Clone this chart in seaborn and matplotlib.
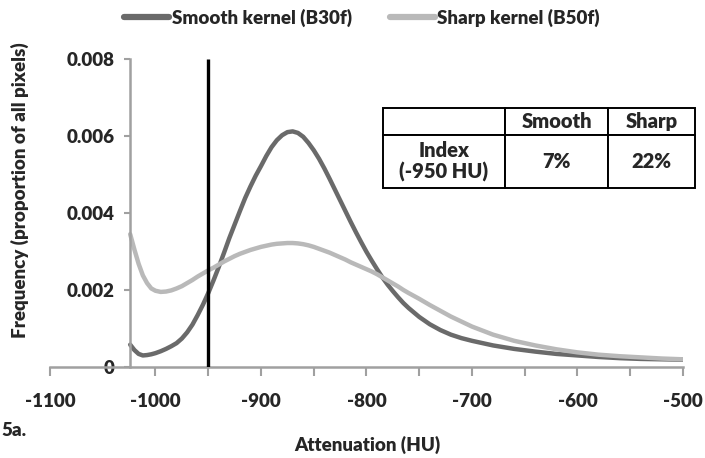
import numpy as np
import pandas as pd
import matplotlib
matplotlib.use("Agg")
import matplotlib.pyplot as plt
from matplotlib.lines import Line2D
import seaborn as sns

# ---- data ----
hu = [-1024, -1020, -1016, -1012, -1008, -1004, -1000, -995, -990, -985, -980, -975,
      -970, -965, -960, -955, -950, -945, -940, -935, -930, -925, -920, -915, -910,
      -905, -900, -895, -890, -885, -880, -875, -870, -865, -860, -855, -850, -845,
      -840, -835, -830, -825, -820, -815, -810, -805, -800, -795, -790, -785, -780,
      -775, -770, -765, -760, -750, -740, -730, -720, -710, -700, -680, -660, -640,
      -620, -600, -580, -560, -540, -520, -500]
smooth = [0.00058, 0.00044, 0.00034, 0.00030, 0.00031, 0.00033, 0.00036, 0.00041,
          0.00047, 0.00054, 0.00062, 0.00074, 0.00090, 0.00110, 0.00135, 0.00162,
          0.00192, 0.00225, 0.00260, 0.00297, 0.00335, 0.00370, 0.00405, 0.00439,
          0.00469, 0.00497, 0.00522, 0.00548, 0.00571, 0.00589, 0.00602, 0.00610,
          0.00612, 0.00608, 0.00598, 0.00582, 0.00563, 0.00541, 0.00516, 0.00489,
          0.00461, 0.00433, 0.00405, 0.00377, 0.00350, 0.00324, 0.00299, 0.00276,
          0.00254, 0.00233, 0.00214, 0.00197, 0.00181, 0.00166, 0.00153, 0.00130,
          0.00111, 0.00096, 0.00084, 0.00075, 0.00068, 0.00056, 0.00047, 0.00040,
          0.00034, 0.00030, 0.00026, 0.00023, 0.00021, 0.00020, 0.00019]
sharp = [0.00345, 0.00305, 0.00268, 0.00238, 0.00218, 0.00204, 0.00198, 0.00195,
         0.00196, 0.00199, 0.00204, 0.00210, 0.00218, 0.00226, 0.00235, 0.00243,
         0.00251, 0.00258, 0.00266, 0.00274, 0.00281, 0.00288, 0.00294, 0.00299,
         0.00304, 0.00308, 0.00312, 0.00315, 0.00318, 0.00320, 0.00321, 0.00322,
         0.00322, 0.00321, 0.00319, 0.00316, 0.00312, 0.00307, 0.00302, 0.00297,
         0.00291, 0.00285, 0.00279, 0.00272, 0.00266, 0.00260, 0.00254, 0.00248,
         0.00241, 0.00233, 0.00225, 0.00217, 0.00209, 0.00200, 0.00192, 0.00177,
         0.00161, 0.00146, 0.00131, 0.00118, 0.00105, 0.00084, 0.00068, 0.00056,
         0.00046, 0.00038, 0.00032, 0.00028, 0.00025, 0.00022, 0.00020]
series_names = ["Smooth kernel (B30f)", "Sharp kernel (B50f)"]
threshold = -950
x_ticks = [-1100, -1000, -900, -800, -700, -600, -500]
x_tick_labels = ["-1100", "-1000", "-900", "-800", "-700", "-600", "-500"]
x_minor = [-950, -850, -750, -650, -550]
y_ticks = [0, 0.002, 0.004, 0.006, 0.008]
y_tick_labels = ["0", "0.002", "0.004", "0.006", "0.008"]
table_text = [["", "Smooth", "Sharp"],
              ["Index\n(-950 HU)", "7%", "22%"]]

# ---- style ----
sns.set_theme(style="white")
plt.rcParams["font.family"] = ["Lato", "DejaVu Sans"]
plt.rcParams["axes.unicode_minus"] = False
W = "heavy"
FS = 13.5

colors = {series_names[0]: "#6a6a6a", series_names[1]: "#b9b9b9"}
axis_grey = "#a0a0a0"

df = pd.concat([
    pd.DataFrame({"HU": hu, "freq": smooth, "series": series_names[0]}),
    pd.DataFrame({"HU": hu, "freq": sharp, "series": series_names[1]}),
])

fig = plt.figure(figsize=(7.05, 4.58), dpi=100)
ax = fig.add_axes([50 / 705, 1 - 367 / 458, 633 / 705, 308 / 458])

sns.lineplot(data=df, x="HU", y="freq", hue="series", palette=colors,
             linewidth=3.2, ax=ax, legend=False, sort=False)

ax.vlines(threshold, 0, 0.008, color="black", linewidth=2.4, zorder=5)

ax.set_xlim(-1100, -500)
ax.set_ylim(0, 0.008)

for s in ["top", "right"]:
    ax.spines[s].set_visible(False)
ax.spines["left"].set_position(("data", -1024))
for s in ["left", "bottom"]:
    ax.spines[s].set_color(axis_grey)
    ax.spines[s].set_linewidth(1.8)

ax.set_xticks(x_ticks)
ax.set_xticklabels(x_tick_labels, fontsize=FS, fontweight=W)
ax.set_xticks(x_minor, minor=True)
ax.set_yticks(y_ticks)
ax.set_yticklabels(y_tick_labels, fontsize=FS, fontweight=W)
ax.tick_params(axis="x", which="both", direction="out", length=6.5, width=1.5,
               color=axis_grey, pad=12, bottom=True)
ax.tick_params(axis="y", which="major", direction="out", length=4, width=1.5,
               color=axis_grey, pad=7, left=True)
ax.grid(False)

ax.set_xlabel("")
ax.set_ylabel("")
fig.text(367 / 705, 1 - 445 / 458, "Attenuation (HU)", ha="center", va="center",
         fontsize=FS, fontweight=W)
fig.text(20 / 705, 1 - 190 / 458, "Frequency (proportion of all pixels)",
         rotation=90, ha="center", va="center", fontsize=FS, fontweight=W)
fig.text(1 / 705, 1 - 430 / 458, "5a.", ha="left", va="center",
         fontsize=FS, fontweight=W)

# legend
handles = [Line2D([0], [0], color=colors[n], linewidth=4.5) for n in series_names]
fig.legend(handles, series_names, loc="center", bbox_to_anchor=(362 / 705, 1 - 18 / 458),
           ncol=2, frameon=False, handlelength=2.4, handletextpad=0.15,
           columnspacing=2.0, prop={"weight": W, "size": FS})

# table
col_w = [122, 103, 87]
tbl = ax.table(cellText=table_text, colWidths=[w / sum(col_w) for w in col_w],
               cellLoc="center",
               bbox=[(383 - 50) / 633, (367 - 188) / 308, (695 - 383) / 633, 80 / 308])
tbl.auto_set_font_size(False)
for (r, c), cell in tbl.get_celld().items():
    cell.set_height(27 if r == 0 else 53)
    cell.set_linewidth(1.4)
    cell.set_edgecolor("black")
    cell.set_clip_on(False)
    cell.get_text().set_fontsize(14.5)
    cell.get_text().set_fontweight(W)
    cell.get_text().set_linespacing(1.1)
    cell.get_text().set_clip_on(False)
tbl.set_clip_on(False)

fig.savefig("out.png", dpi=100)
